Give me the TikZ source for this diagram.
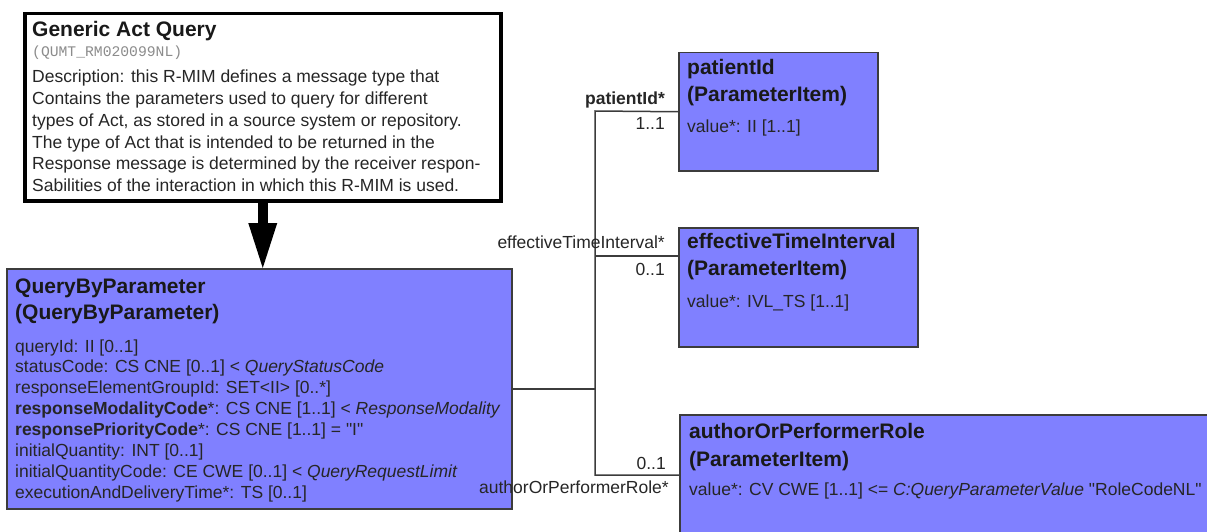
\documentclass[tikz,border=0pt]{standalone}
\usepackage{fontspec}
\setmainfont[Ligatures=TeXOff]{Liberation Sans}
\setmonofont{Liberation Mono}
\usetikzlibrary{arrows.meta,shadows}
\definecolor{rimblue}{RGB}{128,128,255}
\definecolor{rimline}{RGB}{60,60,60}
\tikzset{
  clsbox/.style={draw=rimline, line width=1.5pt, fill=rimblue, anchor=north west, inner sep=0pt,
    drop shadow={shadow xshift=1.5pt, shadow yshift=-1.5pt, fill=black!35, opacity=1}},
  ttl/.style={anchor=base west, inner sep=0pt, text=black!90, font=\fontsize{21}{25}\selectfont\bfseries},
  attr/.style={anchor=base west, inner sep=0pt, text=black!85, font=\fontsize{17.5}{21}\selectfont},
  role/.style={anchor=base east, inner sep=0pt, text=black!85, font=\fontsize{17.5}{21}\selectfont},
  assoc/.style={draw=rimline, line width=1.5pt},
}
\begin{document}
\begin{tikzpicture}[x=1pt,y=-1pt]
\useasboundingbox (0,0) rectangle (1207,532);
% boxes
\node[clsbox, fill=white, draw=black, line width=3.5pt, minimum width=476pt, minimum height=187pt] (gaq) at (23,12) {};
\node[clsbox, minimum width=505pt, minimum height=240pt] (qbp) at (6,268) {};
\node[clsbox, minimum width=199pt, minimum height=118pt] (pid) at (678,52) {};
\node[clsbox, minimum width=239pt, minimum height=119pt] (eti) at (678,227) {};
\node[clsbox, minimum width=560pt, minimum height=150pt] (aopr) at (679,414) {};
% connectors
\draw[line width=10pt, -{Triangle[width=29pt,length=45pt,line width=0pt]}] (gaq.south) -- (gaq.south |- qbp.north);
\coordinate (jtop) at (595,111);
\coordinate (jbot) at (595,475);
\coordinate (jeti) at (678,256);
\draw[assoc] (pid.west) -- (jtop) -- (jbot) -- (jbot -| aopr.west);
\draw[assoc] (qbp.east) -- (qbp.east -| jtop);
\draw[assoc] (jeti -| jtop) -- (jeti);
% Generic Act Query
\node[ttl] (g1) at (32,37) {Generic Act Query};
\node[anchor=base west, inner sep=0pt, text=black!45, font=\fontsize{14.7}{17}\ttfamily] (g2) at (32,57) {(QUMT\_RM020099NL)};
\node[attr] (g3) at (32,82.7) {Description: this R-MIM defines a message type that};
\node[attr] (g4) at (32,104.5) {Contains the parameters used to query for different};
\node[attr] (g5) at (32,126.3) {types of Act, as stored in a source system or repository.};
\node[attr] (g6) at (32,148.1) {The type of Act that is intended to be returned in the};
\node[attr] (g7) at (32,169.9) {Response message is determined by the receiver respon-};
\node[attr] (g8) at (32,191.7) {Sabilities of the interaction in which this R-MIM is used.};
% QueryByParameter
\node[ttl] (q1) at (15,293) {QueryByParameter};
\node[ttl] (q2) at (15,319) {(QueryByParameter)};
\node[attr] (q3) at (15,352) {queryId: II [0..1]};
\node[attr] (q4) at (15,372.9) {statusCode: CS CNE [0..1] < \textit{QueryStatusCode}};
\node[attr] (q5) at (15,393.8) {responseElementGroupId: SET<II> [0..*]};
\node[attr] (q6) at (15,414.7) {\textbf{responseModalityCode}*: CS CNE [1..1] < \textit{ResponseModality}};
\node[attr] (q7) at (15,435.6) {\textbf{responsePriorityCode}*: CS CNE [1..1] = "I"};
\node[attr] (q8) at (15,456.5) {initialQuantity: INT [0..1]};
\node[attr] (q9) at (15,477.4) {initialQuantityCode: CE CWE [0..1] < \textit{QueryRequestLimit}};
\node[attr] (q10) at (15,498.3) {executionAndDeliveryTime*: TS [0..1]};
% ParameterItems
\node[ttl] (p1) at (687,75) {patientId};
\node[ttl] (p2) at (687,102) {(ParameterItem)};
\node[attr] (p3) at (687,133) {value*: II [1..1]};
\node[ttl] (e1) at (687,248) {effectiveTimeInterval};
\node[ttl] (e2) at (687,275) {(ParameterItem)};
\node[attr] (e3) at (687,307) {value*: IVL\_TS [1..1]};
\node[ttl] (a1) at (689,438) {authorOrPerformerRole};
\node[ttl] (a2) at (689,466) {(ParameterItem)};
\node[attr] (a3) at (689,495) {value*: CV CWE [1..1] <= \textit{C:QueryParameterValue} "RoleCodeNL"};
% role names
\node[role, font=\fontsize{17.5}{21}\selectfont\bfseries] (r1) at (665,105) {patientId*};
\node[role] (m1) at (665,130) {1..1};
\node[role] (r2) at (665,248) {effectiveTimeInterval*};
\node[role] (m2) at (665,275) {0..1};
\node[role] (m3) at (666,469) {0..1};
\node[role] (r3) at (669,493) {authorOrPerformerRole*};
\end{tikzpicture}
\end{document}
